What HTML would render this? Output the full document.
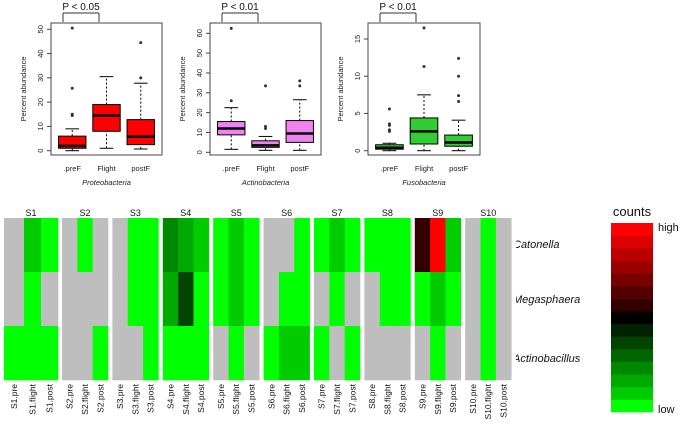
<!DOCTYPE html>
<html><head><meta charset="utf-8"><style>
html,body{margin:0;padding:0;background:#fff}
svg{display:block}
text{font-family:"Liberation Sans",sans-serif}
</style></head><body>
<svg id="fig" width="693" height="425" viewBox="0 0 693 425" xmlns="http://www.w3.org/2000/svg">
<rect x="0" y="0" width="693" height="425" fill="#fff"/>
<defs><clipPath id="lblclip"><rect x="516" y="200" width="100" height="200"/></clipPath></defs>
<g id="boxplots"></g>
<g id="heatmap"></g>
<g id="key"></g>
</svg>
<script>
const NS="http://www.w3.org/2000/svg";
function mk(tag,attrs,parent){const e=document.createElementNS(NS,tag);for(const k in attrs)e.setAttribute(k,attrs[k]);parent.appendChild(e);return e;}

// ---- Boxplot data ----
const groups=[".preF","Flight","postF"];
const phyla=["Proteobacteria","Actinobacteria","Fusobacteria"];
const pvals=["P < 0.05","P < 0.01","P < 0.01"];
const yTicks1=[0,10,20,30,40,50];
const yTicks2=[0,10,20,30,40,50,60];
const yTicks3=[0,5,10,15];
// [whiskerLow, q1, median, q3, whiskerHigh]
const proteoStats=[[0,1,2,6,9],[1,8,14.5,19,30.5],[0.7,2.5,5.8,12.8,27.8]];
const proteoOut=[[14.5,15,25.7,50.5],[],[30,44.5]];
const actinoStats=[[1.5,8.8,12,15.5,22.5],[1,2.5,3.5,5.8,8],[1,5,9.5,16,26.5]];
const actinoOut=[[26,62.5],[12,13,33.5],[33.5,36]];
const fusoStats=[[0,0.2,0.4,0.8,1],[0,0.9,2.6,4.4,7.5],[0,0.6,1.1,2.1,4.1]];
const fusoOut=[[2.6,2.8,3.4,3.6,5.6],[11.3,16.5],[6.6,7.4,10,12.4]];

const panels=[
 {x0:51,x1:162,yTop:29.3,yTopVal:50,yZero:150.7,ticks:yTicks1,stats:proteoStats,out:proteoOut,fill:"#ff0000",name:"proteobacteria"},
 {x0:210,x1:321,yTop:33.3,yTopVal:60,yZero:152.3,ticks:yTicks2,stats:actinoStats,out:actinoOut,fill:"#ee82ee",name:"actinobacteria"},
 {x0:368,x1:480,yTop:39,yTopVal:15,yZero:150.7,ticks:yTicks3,stats:fusoStats,out:fusoOut,fill:"#32cd32",name:"fusobacteria"}
];
const bp=document.getElementById('boxplots');
panels.forEach((p,pi)=>{
 const g=mk('g',{},bp);
 
 
 const y=v=>p.yZero-(p.yZero-p.yTop)*v/p.yTopVal;
 const s=(p.x1-p.x0)/3.24;
 const x=i=>p.x0+s*(0.62+i);
 const bw=s*0.8;
 // boxes
 p.stats.forEach((st,i)=>{
  const cx=x(i);
  const bg=mk('g',{},g);
  
  
  mk('line',{x1:cx,x2:cx,y1:y(st[0]),y2:y(st[1]),stroke:'#000','stroke-width':1,'stroke-dasharray':'2,2'},bg);
  mk('line',{x1:cx,x2:cx,y1:y(st[3]),y2:y(st[4]),stroke:'#000','stroke-width':1,'stroke-dasharray':'2,2'},bg);
  mk('line',{x1:cx-bw/4,x2:cx+bw/4,y1:y(st[0]),y2:y(st[0]),stroke:'#000','stroke-width':1},bg);
  mk('line',{x1:cx-bw/4,x2:cx+bw/4,y1:y(st[4]),y2:y(st[4]),stroke:'#000','stroke-width':1},bg);
  mk('rect',{x:cx-bw/2,y:y(st[3]),width:bw,height:Math.max(1,y(st[1])-y(st[3])),fill:p.fill,stroke:'#000','stroke-width':1},bg);
  mk('line',{x1:cx-bw/2,x2:cx+bw/2,y1:y(st[2]),y2:y(st[2]),stroke:'#000','stroke-width':2.5},bg);
  p.out[i].forEach(v=>{const c=mk('circle',{cx:cx,cy:y(v),r:1.5,fill:'#333'},bg);
   
   });
  const t=mk('text',{x:cx,y:171,'font-size':7.5,'text-anchor':'middle',fill:'#222'},g);
  t.textContent=groups[i];
  
  
 });
 // frame
 const fr=mk('rect',{x:p.x0,y:23,width:p.x1-p.x0,height:132,fill:'none',stroke:'#444','stroke-width':1},g);
 
 
 // y ticks
 p.ticks.forEach(v=>{
  mk('line',{x1:p.x0-4,x2:p.x0,y1:y(v),y2:y(v),stroke:'#444','stroke-width':1},g);
  const t=mk('text',{x:p.x0-8,y:y(v),'font-size':7.5,'text-anchor':'middle',fill:'#222',transform:`rotate(-90 ${p.x0-8} ${y(v)})`},g);
  t.textContent=v;
  
  
 });
 const yl=mk('text',{x:p.x0-25,y:89,'font-size':7.5,'text-anchor':'middle',fill:'#222',transform:`rotate(-90 ${p.x0-25} 89)`},g);
 yl.textContent="Percent abundance";
 
 
 const tt=mk('text',{x:(p.x0+p.x1)/2,y:185,'font-size':7.5,'font-style':'italic','text-anchor':'middle',fill:'#222'},g);
 tt.textContent=phyla[pi];
 
 
 // bracket
 const bx0=p.x0+12,bx1=p.x0+48;
 const br=mk('path',{d:`M${bx0},22 L${bx0},14 Q${bx0},13 ${bx0+1},13 L${bx1-1},13 Q${bx1},13 ${bx1},14 L${bx1},22`,fill:'none',stroke:'#333','stroke-width':1},g);
 
 
 const pt=mk('text',{x:(bx0+bx1)/2,y:10,'font-size':10,'text-anchor':'middle',fill:'#111'},g);
 pt.textContent=pvals[pi];
 
 
});

// ---- Heatmap data ----
const samples=["S1","S2","S3","S4","S5","S6","S7","S8","S9","S10"];
const phases=["pre","flight","post"];
const genera=["Catonella","Megasphaera","Actinobacillus"];
const palette=["#00ff00","#00cc00","#00aa00","#008800","#006600","#004400","#002200","#000000","#330000","#550000","#770000","#990000","#bb0000","#dd0000","#ff0000"];
// level index 0..14 into color scale, null = absent (gray); per sample: rows x [pre,flight,post]
const catonella=[[null,1,0],[null,0,null],[null,0,0],[3,2,1],[0,1,0],[null,null,0],[0,1,0],[0,0,0],[8,14,1],[null,0,null]];
const megasphaera=[[null,0,null],[null,null,null],[null,0,0],[2,5,0],[0,1,0],[null,0,0],[null,0,null],[null,0,0],[0,1,0],[null,0,null]];
const actinobacillus=[[0,0,0],[null,null,0],[null,null,0],[0,0,0],[null,0,null],[0,1,1],[0,null,0],[null,null,null],[null,0,null],[null,0,null]];
const rowsData=[catonella,megasphaera,actinobacillus];

const hm=document.getElementById('heatmap');
const rowY=[218,272,326,380];
function grpX(i){return i===0?4:62+50.4*(i-1);}
function grpW(i){return i===0?54:46;}
samples.forEach((sname,si)=>{
 const g=mk('g',{},hm);
 
 
 const gx=grpX(si),gw=grpW(si);
 const cw=si===0?[20,17,17]:[gw/3,gw/3,gw/3];
 let cx=gx;
 phases.forEach((ph,ci)=>{
  rowsData.forEach((rd,ri)=>{
   const v=rd[si][ci];
   const r=mk('rect',{x:cx,y:rowY[ri],width:cw[ci]+0.3,height:rowY[ri+1]-rowY[ri]+0.3,fill:v===null?'#bebebe':palette[v]},g);
   
   
  });
  const lx=cx+cw[ci]/2+3;
  const t=mk('text',{x:lx,y:384,'font-size':8.5,'text-anchor':'end',fill:'#111',transform:`rotate(-90 ${lx} 384)`},g);
  t.textContent=sname+'.'+ph;
  
  
  cx+=cw[ci];
 });
 const st=mk('text',{x:gx+gw/2,y:216,'font-size':9,'text-anchor':'middle',fill:'#111'},g);
 st.textContent=sname;
 
 
});
const rl=mk('g',{'clip-path':'url(#lblclip)'},hm);
const rlY=[248,303,362];
genera.forEach((gn,i)=>{
 const t=mk('text',{x:513,y:rlY[i],'font-size':11,'font-style':'italic',fill:'#111'},rl);
 t.textContent=gn;
 
 
});

// ---- Color key ----
const key=document.getElementById('key');
const kx=611,kw=42,kt=223,kb=412,bh=(kb-kt)/palette.length;
palette.forEach((c,i)=>{
 const r=mk('rect',{x:kx,y:kb-(i+1)*bh,width:kw,height:bh+0.3,fill:c},key);
 
 
});
const ct=mk('text',{x:632,y:216,'font-size':13,'text-anchor':'middle',fill:'#111'},key);
ct.textContent="counts";


const hi=mk('text',{x:658,y:231,'font-size':11,fill:'#111'},key);
hi.textContent="high";


const lo=mk('text',{x:658,y:413,'font-size':11,fill:'#111'},key);
lo.textContent="low";


</script>
</body></html>
